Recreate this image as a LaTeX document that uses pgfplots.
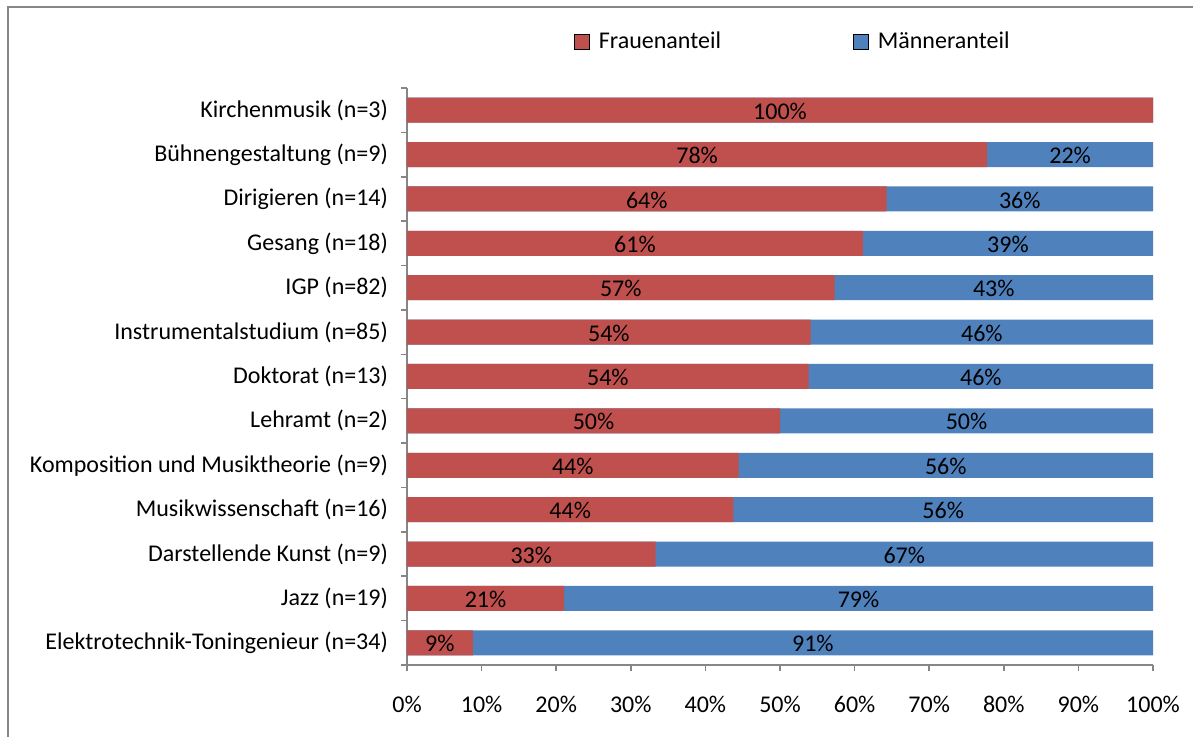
\documentclass[border=0pt]{standalone}
\usepackage{fontspec}
\setmainfont{Carlito}
\usepackage{pgfplots}
\usepackage{pgfplotstable}
\pgfplotsset{compat=1.18}
\definecolor{frau}{HTML}{C0504D}
\definecolor{mann}{HTML}{4F81BD}
\definecolor{achse}{HTML}{868686}
\newcommand{\lbl}{\fontsize{12}{14}\selectfont}

% Anteile in Prozent; pos 12 = oberster Balken
\pgfplotstableread{
pos f m fl ml
12 100.00 0.00 100 0
11 77.78 22.22 78 22
10 64.29 35.71 64 36
9 61.11 38.89 61 39
8 57.32 42.68 57 43
7 54.12 45.88 54 46
6 53.85 46.15 54 46
5 50.00 50.00 50 50
4 44.44 55.56 44 56
3 43.75 56.25 44 56
2 33.33 66.67 33 67
1 21.05 78.95 21 79
0 8.82 91.18 9 91
}\anteile

\begin{document}
\begin{tikzpicture}
\begin{axis}[
  at={(0,0)}, anchor=south west,
  scale only axis, width=373pt, height=288.5pt,
  xmin=0, xmax=100, ymin=-0.5, ymax=12.5,
  axis x line*=bottom, axis y line*=left,
  axis line style={achse, line width=0.75pt},
  tick style={achse, line width=0.75pt},
  tick align=outside,
  major tick length=3pt, minor tick length=3pt,
  major y tick style={draw=none},
  xtick={0,10,...,100},
  xticklabels={0\%,10\%,20\%,30\%,40\%,50\%,60\%,70\%,80\%,90\%,100\%},
  ytick={0,...,12},
  minor ytick={-0.5,0.5,...,12.5},
  yticklabels={Elektrotechnik-Toningenieur (n=34), Jazz (n=19), Darstellende Kunst (n=9),
    Musikwissenschaft (n=16), Komposition und Musiktheorie (n=9), Lehramt (n=2),
    Doktorat (n=13), Instrumentalstudium (n=85), IGP (n=82), Gesang (n=18),
    Dirigieren (n=14), Bühnengestaltung (n=9), Kirchenmusik (n=3)},
  tick label style={font=\lbl, text=black},
  xticklabel style={yshift=-9pt},
  yticklabel style={xshift=-3pt},
  legend image code/.code={\fill[#1] (0pt,-3.75pt) rectangle (7.5pt,3.75pt);},
  legend style={at={(0.5185,1.0806)}, anchor=center, draw=none, fill=none,
    font=\lbl, legend columns=2,
    /tikz/every odd column/.append style={column sep=2.5pt},
    /tikz/every even column/.append style={column sep=64pt}},
]
\addplot[xbar, bar width=12.5pt, bar shift=0pt, fill=mann, draw=none, forget plot]
  table[x expr=\thisrow{f}+\thisrow{m}, y=pos]{\anteile};
\addplot[xbar, bar width=12.5pt, bar shift=0pt, fill=frau, draw=none, forget plot]
  table[x=f, y=pos]{\anteile};
\addplot[draw=none, mark=none, forget plot, point meta=explicit symbolic,
  nodes near coords={\pgfplotspointmeta\%},
  every node near coord/.style={anchor=center, yshift=-0.5pt, font=\lbl, text=black}]
  table[x expr=\thisrow{f}/2, y=pos, meta=fl]{\anteile};
\addplot[draw=none, mark=none, forget plot, point meta=explicit symbolic,
  skip coords between index={0}{1},
  nodes near coords={\pgfplotspointmeta\%},
  every node near coord/.style={anchor=center, yshift=-0.5pt, font=\lbl, text=black}]
  table[x expr=\thisrow{f}+\thisrow{m}/2, y=pos, meta=ml]{\anteile};
\addlegendimage{fill=frau}\addlegendentry{Frauenanteil}
\addlegendimage{fill=mann}\addlegendentry{Männeranteil}
\end{axis}
\draw[achse, line width=1pt] (-199.5pt,-36pt) -- (-199.5pt,329pt) -- (393pt,329pt);
\pgfresetboundingbox
\path[use as bounding box] (-203.5pt,-36pt) rectangle (393pt,332.5pt);
\end{tikzpicture}
\end{document}
